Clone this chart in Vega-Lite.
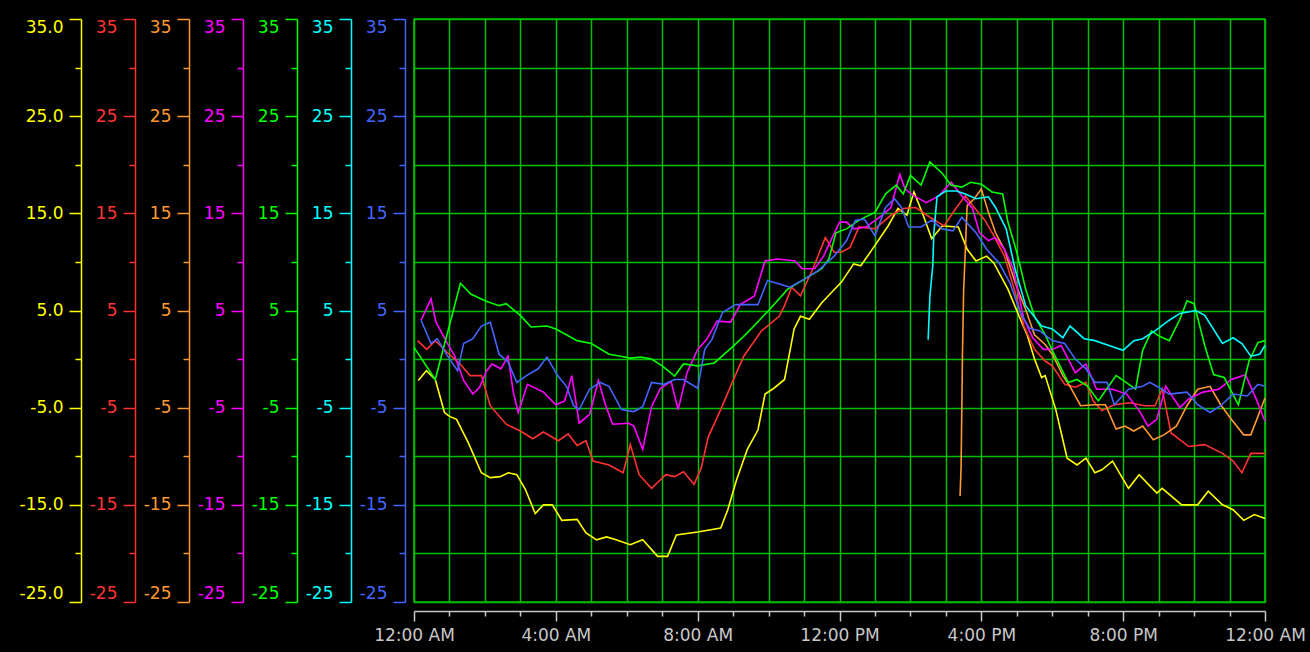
{
  "$schema": "https://vega.github.io/schema/vega-lite/v6.json",
  "width": 851,
  "height": 583,
  "autosize": {"type": "none"},
  "padding": {"left": 414, "top": 19, "right": 45, "bottom": 50},
  "background": "#000000",
  "config": {
    "view": {"stroke": "#00c000", "strokeWidth": 1.5},
    "axis": {"labelFont": "DejaVu Sans", "labelFontSize": 17, "title": null}
  },
  "datasets": {
    "yel": [
      {"h":0.12,"v":-2.2},{"h":0.35,"v":-1.2},{"h":0.6,"v":-2.1},{"h":0.86,"v":-5.5},{"h":1.0,"v":-5.9},{"h":1.2,"v":-6.2},{"h":1.53,"v":-8.6},{"h":1.9,"v":-11.7},{"h":2.15,"v":-12.2},{"h":2.43,"v":-12.1},{"h":2.66,"v":-11.7},{"h":2.9,"v":-11.9},{"h":3.14,"v":-13.4},{"h":3.42,"v":-15.9},{"h":3.65,"v":-15.0},{"h":3.9,"v":-15.0},{"h":4.17,"v":-16.6},{"h":4.6,"v":-16.5},{"h":4.85,"v":-17.9},{"h":5.15,"v":-18.6},{"h":5.43,"v":-18.3},{"h":5.7,"v":-18.6},{"h":6.1,"v":-19.1},{"h":6.45,"v":-18.6},{"h":6.87,"v":-20.3},{"h":7.15,"v":-20.3},{"h":7.4,"v":-18.1},{"h":8.0,"v":-17.8},{"h":8.65,"v":-17.4},{"h":8.85,"v":-15.5},{"h":9.1,"v":-12.4},{"h":9.4,"v":-9.3},{"h":9.7,"v":-7.3},{"h":9.9,"v":-3.6},{"h":10.15,"v":-3.0},{"h":10.45,"v":-2.1},{"h":10.72,"v":3.1},{"h":10.9,"v":4.4},{"h":11.15,"v":4.1},{"h":11.5,"v":5.8},{"h":11.76,"v":6.8},{"h":12.05,"v":7.9},{"h":12.4,"v":9.8},{"h":12.6,"v":9.6},{"h":13.0,"v":11.7},{"h":13.37,"v":13.7},{"h":13.65,"v":15.5},{"h":13.9,"v":14.8},{"h":14.1,"v":17.2},{"h":14.35,"v":14.9},{"h":14.6,"v":12.4},{"h":14.9,"v":13.7},{"h":15.35,"v":13.6},{"h":15.6,"v":11.3},{"h":15.85,"v":10.1},{"h":16.15,"v":10.6},{"h":16.35,"v":9.9},{"h":16.75,"v":7.2},{"h":17.1,"v":4.1},{"h":17.3,"v":2.4},{"h":17.5,"v":0.0},{"h":17.7,"v":-1.9},{"h":17.8,"v":-1.7},{"h":18.1,"v":-5.2},{"h":18.42,"v":-10.2},{"h":18.7,"v":-10.9},{"h":18.95,"v":-10.2},{"h":19.2,"v":-11.7},{"h":19.4,"v":-11.4},{"h":19.7,"v":-10.5},{"h":20.15,"v":-13.3},{"h":20.45,"v":-11.9},{"h":20.95,"v":-13.8},{"h":21.1,"v":-13.3},{"h":21.65,"v":-15.0},{"h":22.1,"v":-15.0},{"h":22.4,"v":-13.6},{"h":22.8,"v":-15.0},{"h":23.1,"v":-15.5},{"h":23.4,"v":-16.6},{"h":23.7,"v":-16.0},{"h":24,"v":-16.4}
    ],
    "red": [
      {"h":0.1,"v":1.9},{"h":0.36,"v":1.0},{"h":0.6,"v":1.9},{"h":0.93,"v":0.7},{"h":1.3,"v":-0.5},{"h":1.58,"v":-1.7},{"h":1.9,"v":-1.7},{"h":2.15,"v":-4.8},{"h":2.6,"v":-6.7},{"h":3.0,"v":-7.4},{"h":3.35,"v":-8.2},{"h":3.65,"v":-7.5},{"h":4.07,"v":-8.4},{"h":4.35,"v":-7.7},{"h":4.6,"v":-8.9},{"h":4.85,"v":-8.4},{"h":5.05,"v":-10.5},{"h":5.5,"v":-10.9},{"h":5.9,"v":-11.7},{"h":6.1,"v":-8.8},{"h":6.35,"v":-11.9},{"h":6.7,"v":-13.3},{"h":7.1,"v":-11.9},{"h":7.35,"v":-12.1},{"h":7.6,"v":-11.6},{"h":7.9,"v":-12.9},{"h":8.1,"v":-11.2},{"h":8.3,"v":-8.0},{"h":8.65,"v":-5.2},{"h":8.95,"v":-2.6},{"h":9.3,"v":0.3},{"h":9.8,"v":2.9},{"h":10.3,"v":4.4},{"h":10.45,"v":5.5},{"h":10.65,"v":7.4},{"h":10.9,"v":6.5},{"h":11.25,"v":9.3},{"h":11.6,"v":12.5},{"h":11.85,"v":11.0},{"h":12.05,"v":11.0},{"h":12.3,"v":11.5},{"h":12.55,"v":13.6},{"h":13.0,"v":13.4},{"h":13.45,"v":14.8},{"h":13.8,"v":15.5},{"h":14.15,"v":15.6},{"h":14.55,"v":14.6},{"h":14.95,"v":13.7},{"h":15.3,"v":15.6},{"h":15.55,"v":16.8},{"h":15.8,"v":15.6},{"h":16.1,"v":14.3},{"h":16.35,"v":12.7},{"h":16.65,"v":10.6},{"h":16.95,"v":6.9},{"h":17.2,"v":3.4},{"h":17.5,"v":1.0},{"h":17.8,"v":-0.2},{"h":18.0,"v":-0.7},{"h":18.35,"v":-2.6},{"h":18.65,"v":-2.9},{"h":18.95,"v":-2.4},{"h":19.15,"v":-4.3},{"h":19.4,"v":-5.3},{"h":19.75,"v":-4.7},{"h":20.2,"v":-4.5},{"h":20.6,"v":-4.8},{"h":20.9,"v":-4.8},{"h":21.1,"v":-3.1},{"h":21.35,"v":-7.6},{"h":21.85,"v":-9.0},{"h":22.3,"v":-8.8},{"h":22.8,"v":-9.7},{"h":23.1,"v":-10.5},{"h":23.35,"v":-11.7},{"h":23.6,"v":-9.7},{"h":24,"v":-9.7}
    ],
    "ora": [
      {"h":15.4,"v":-14.1},{"h":15.43,"v":-11.0},{"h":15.45,"v":-4.9},{"h":15.47,"v":1.0},{"h":15.5,"v":6.9},{"h":15.6,"v":15.8},{"h":15.8,"v":16.5},{"h":16.0,"v":17.5},{"h":16.2,"v":15.1},{"h":16.4,"v":13.0},{"h":16.65,"v":11.3},{"h":16.95,"v":7.9},{"h":17.25,"v":5.1},{"h":17.5,"v":2.5},{"h":17.8,"v":1.5},{"h":18.0,"v":0.5},{"h":18.3,"v":-1.7},{"h":18.5,"v":-2.8},{"h":18.8,"v":-4.8},{"h":19.2,"v":-4.7},{"h":19.5,"v":-4.7},{"h":19.8,"v":-7.2},{"h":20.05,"v":-6.9},{"h":20.3,"v":-7.4},{"h":20.55,"v":-6.9},{"h":20.85,"v":-8.3},{"h":21.15,"v":-7.8},{"h":21.5,"v":-6.9},{"h":21.8,"v":-4.8},{"h":22.1,"v":-3.1},{"h":22.45,"v":-2.8},{"h":22.75,"v":-4.7},{"h":23.05,"v":-6.2},{"h":23.4,"v":-7.8},{"h":23.6,"v":-7.8},{"h":24,"v":-4.0}
    ],
    "mag": [
      {"h":0.2,"v":4.0},{"h":0.48,"v":6.2},{"h":0.62,"v":3.8},{"h":0.9,"v":1.9},{"h":1.15,"v":0.3},{"h":1.4,"v":-2.2},{"h":1.66,"v":-3.6},{"h":1.85,"v":-2.9},{"h":2.05,"v":-1.2},{"h":2.2,"v":-0.5},{"h":2.45,"v":-1.0},{"h":2.65,"v":0.3},{"h":2.8,"v":-3.4},{"h":2.94,"v":-5.5},{"h":3.2,"v":-2.6},{"h":3.65,"v":-3.4},{"h":4.0,"v":-4.7},{"h":4.25,"v":-4.3},{"h":4.45,"v":-1.7},{"h":4.66,"v":-6.6},{"h":4.95,"v":-5.7},{"h":5.2,"v":-2.2},{"h":5.4,"v":-4.7},{"h":5.6,"v":-6.7},{"h":6.05,"v":-6.6},{"h":6.2,"v":-6.9},{"h":6.45,"v":-9.3},{"h":6.7,"v":-4.9},{"h":6.95,"v":-3.0},{"h":7.25,"v":-2.3},{"h":7.45,"v":-5.2},{"h":7.7,"v":-1.4},{"h":8.0,"v":1.0},{"h":8.25,"v":2.0},{"h":8.55,"v":3.9},{"h":8.93,"v":3.8},{"h":9.2,"v":5.6},{"h":9.6,"v":6.5},{"h":9.9,"v":10.1},{"h":10.25,"v":10.3},{"h":10.75,"v":10.1},{"h":10.95,"v":9.3},{"h":11.3,"v":9.3},{"h":11.55,"v":10.6},{"h":12.0,"v":14.1},{"h":12.2,"v":14.1},{"h":12.4,"v":13.4},{"h":12.75,"v":13.6},{"h":13.2,"v":14.8},{"h":13.45,"v":15.6},{"h":13.7,"v":19.0},{"h":13.85,"v":17.5},{"h":14.1,"v":16.8},{"h":14.45,"v":16.1},{"h":14.8,"v":16.8},{"h":15.15,"v":18.2},{"h":15.45,"v":16.8},{"h":15.75,"v":15.5},{"h":15.95,"v":13.0},{"h":16.2,"v":12.2},{"h":16.4,"v":12.5},{"h":16.65,"v":11.3},{"h":16.9,"v":9.3},{"h":17.2,"v":4.1},{"h":17.45,"v":2.2},{"h":17.75,"v":1.0},{"h":18.0,"v":1.0},{"h":18.25,"v":1.4},{"h":18.65,"v":-1.4},{"h":18.95,"v":-0.5},{"h":19.25,"v":-3.1},{"h":19.7,"v":-3.1},{"h":20.1,"v":-3.6},{"h":20.45,"v":-5.3},{"h":20.7,"v":-6.9},{"h":20.95,"v":-6.2},{"h":21.2,"v":-2.8},{"h":21.6,"v":-5.0},{"h":21.85,"v":-4.1},{"h":22.25,"v":-3.4},{"h":22.7,"v":-3.1},{"h":23.05,"v":-2.1},{"h":23.45,"v":-1.6},{"h":23.75,"v":-4.1},{"h":24,"v":-6.4}
    ],
    "grn": [
      {"h":0.0,"v":1.2},{"h":0.6,"v":-2.1},{"h":1.31,"v":7.8},{"h":1.6,"v":6.7},{"h":2.0,"v":6.0},{"h":2.4,"v":5.5},{"h":2.6,"v":5.7},{"h":3.0,"v":4.5},{"h":3.3,"v":3.3},{"h":3.75,"v":3.4},{"h":4.0,"v":3.1},{"h":4.6,"v":1.9},{"h":5.0,"v":1.6},{"h":5.5,"v":0.5},{"h":5.83,"v":0.3},{"h":6.1,"v":0.1},{"h":6.4,"v":0.2},{"h":6.7,"v":0.0},{"h":7.0,"v":-0.7},{"h":7.35,"v":-1.75},{"h":7.6,"v":-0.5},{"h":8.0,"v":-0.7},{"h":8.47,"v":-0.4},{"h":9.0,"v":1.3},{"h":9.4,"v":2.7},{"h":10.0,"v":5.0},{"h":10.54,"v":7.2},{"h":11.0,"v":8.2},{"h":11.5,"v":9.3},{"h":11.7,"v":10.3},{"h":11.9,"v":13.0},{"h":12.2,"v":13.4},{"h":12.55,"v":14.3},{"h":13.0,"v":15.1},{"h":13.3,"v":17.0},{"h":13.6,"v":17.9},{"h":13.8,"v":17.0},{"h":14.0,"v":18.9},{"h":14.3,"v":17.9},{"h":14.55,"v":20.3},{"h":14.9,"v":19.1},{"h":15.15,"v":17.9},{"h":15.45,"v":17.7},{"h":15.7,"v":18.2},{"h":16.0,"v":18.0},{"h":16.3,"v":17.2},{"h":16.6,"v":17.0},{"h":16.75,"v":14.1},{"h":17.0,"v":11.0},{"h":17.25,"v":7.2},{"h":17.5,"v":4.4},{"h":17.8,"v":2.5},{"h":18.0,"v":0.9},{"h":18.45,"v":-2.4},{"h":18.7,"v":-2.1},{"h":19.0,"v":-2.8},{"h":19.3,"v":-4.3},{"h":19.8,"v":-1.7},{"h":20.0,"v":-2.2},{"h":20.35,"v":-3.1},{"h":20.55,"v":0.9},{"h":20.8,"v":2.9},{"h":21.0,"v":2.4},{"h":21.3,"v":1.9},{"h":21.6,"v":4.1},{"h":21.8,"v":6.0},{"h":22.0,"v":5.7},{"h":22.3,"v":1.4},{"h":22.55,"v":-1.6},{"h":22.85,"v":-1.9},{"h":23.25,"v":-4.7},{"h":23.55,"v":-0.2},{"h":23.8,"v":1.7},{"h":24,"v":1.9}
    ],
    "cya": [
      {"h":14.5,"v":2.0},{"h":14.55,"v":6.5},{"h":14.63,"v":9.6},{"h":14.66,"v":12.9},{"h":14.75,"v":16.7},{"h":15.0,"v":17.3},{"h":15.3,"v":17.3},{"h":15.55,"v":17.0},{"h":15.85,"v":16.5},{"h":16.2,"v":16.7},{"h":16.4,"v":15.6},{"h":16.7,"v":13.4},{"h":16.95,"v":9.3},{"h":17.25,"v":5.5},{"h":17.7,"v":3.4},{"h":18.0,"v":3.1},{"h":18.3,"v":2.2},{"h":18.5,"v":3.4},{"h":18.9,"v":2.1},{"h":19.2,"v":1.9},{"h":19.6,"v":1.4},{"h":20.0,"v":0.9},{"h":20.3,"v":1.9},{"h":20.55,"v":2.1},{"h":20.9,"v":2.9},{"h":21.3,"v":4.0},{"h":21.6,"v":4.7},{"h":22.05,"v":5.0},{"h":22.3,"v":4.5},{"h":22.8,"v":1.6},{"h":23.1,"v":2.2},{"h":23.35,"v":1.6},{"h":23.6,"v":0.3},{"h":23.85,"v":0.5},{"h":24,"v":1.4}
    ],
    "blu": [
      {"h":0.2,"v":4.0},{"h":0.48,"v":1.6},{"h":0.65,"v":2.1},{"h":0.95,"v":0.3},{"h":1.23,"v":-1.2},{"h":1.4,"v":1.6},{"h":1.66,"v":2.1},{"h":1.9,"v":3.4},{"h":2.15,"v":3.8},{"h":2.4,"v":0.5},{"h":2.65,"v":-0.3},{"h":2.9,"v":-2.4},{"h":3.17,"v":-1.7},{"h":3.5,"v":-1.0},{"h":3.75,"v":0.2},{"h":4.05,"v":-1.7},{"h":4.3,"v":-2.8},{"h":4.5,"v":-4.8},{"h":4.66,"v":-5.2},{"h":4.95,"v":-3.1},{"h":5.25,"v":-2.4},{"h":5.5,"v":-2.8},{"h":5.85,"v":-5.2},{"h":6.2,"v":-5.4},{"h":6.45,"v":-4.9},{"h":6.7,"v":-2.4},{"h":7.05,"v":-2.6},{"h":7.35,"v":-2.1},{"h":7.6,"v":-2.1},{"h":8.0,"v":-3.0},{"h":8.2,"v":1.0},{"h":8.4,"v":2.0},{"h":8.7,"v":4.8},{"h":9.07,"v":5.6},{"h":9.7,"v":5.6},{"h":9.97,"v":8.1},{"h":10.33,"v":7.7},{"h":10.6,"v":7.4},{"h":10.95,"v":8.1},{"h":11.4,"v":9.1},{"h":11.85,"v":10.6},{"h":12.05,"v":11.5},{"h":12.2,"v":12.2},{"h":12.45,"v":14.3},{"h":12.7,"v":14.4},{"h":13.0,"v":12.7},{"h":13.3,"v":15.6},{"h":13.55,"v":16.5},{"h":13.75,"v":15.6},{"h":13.95,"v":13.6},{"h":14.3,"v":13.6},{"h":14.6,"v":14.3},{"h":14.9,"v":13.4},{"h":15.2,"v":13.2},{"h":15.45,"v":14.6},{"h":15.85,"v":13.0},{"h":16.15,"v":11.3},{"h":16.5,"v":9.9},{"h":16.8,"v":7.9},{"h":17.1,"v":4.8},{"h":17.35,"v":3.2},{"h":17.65,"v":2.9},{"h":18.0,"v":1.9},{"h":18.35,"v":1.6},{"h":18.65,"v":0.0},{"h":18.95,"v":-1.0},{"h":19.2,"v":-2.4},{"h":19.55,"v":-2.4},{"h":19.75,"v":-4.7},{"h":20.15,"v":-3.1},{"h":20.55,"v":-2.8},{"h":20.75,"v":-2.4},{"h":21.0,"v":-2.9},{"h":21.3,"v":-3.6},{"h":21.8,"v":-3.4},{"h":22.1,"v":-4.7},{"h":22.45,"v":-5.5},{"h":22.75,"v":-4.8},{"h":23.1,"v":-3.6},{"h":23.5,"v":-3.8},{"h":23.8,"v":-2.6},{"h":24,"v":-2.8}
    ]
  },
  "encoding": {
    "x": {
      "field": "h", "type": "quantitative",
      "scale": {"domain": [0, 24], "nice": false, "zero": false},
      "axis": {
        "values": [0,1,2,3,4,5,6,7,8,9,10,11,12,13,14,15,16,17,18,19,20,21,22,23,24],
        "labelExpr": "datum.value % 4 == 0 ? ((datum.value % 12 == 0 ? 12 : datum.value % 12) + ':00 ' + (datum.value % 24 < 12 ? 'AM' : 'PM')) : ''",
        "offset": 9,
        "domainColor": "#c8c8c8", "domainWidth": 1.5,
        "tickColor": "#c8c8c8", "tickWidth": 1.5,
        "tickSize": {"condition": {"test": "datum.value % 4 == 0", "value": 10}, "value": 5},
        "labelColor": "#c8c8c8", "labelPadding": 6, "labelFlush": false, "labelOverlap": false,
        "grid": true, "gridColor": "#00c000", "gridWidth": 1.5
      }
    }
  },
  "layer": [
    {
      "data": {"name": "yel"},
      "mark": {"type": "line", "strokeOpacity": 0},
      "encoding": {
        "y": {"field": "v", "type": "quantitative", "scale": {"domain": [-25, 35], "nice": false, "zero": false},
          "axis": {"orient": "left", "offset": 0, "values": [-25,-20,-15,-10,-5,0,5,10,15,20,25,30,35],
            "grid": true, "gridColor": "#00c000", "gridWidth": 1.5, "domain": false, "ticks": false, "labels": false}}
      }
    },
    {
      "data": {"name": "yel"},
      "mark": {"type": "line", "color": "#ffff00", "strokeWidth": 1.6},
      "encoding": {
        "y": {"field": "v", "type": "quantitative", "scale": {"domain": [-25, 35], "nice": false, "zero": false},
          "axis": {"orient": "left", "offset": 333, "values": [-25,-20,-15,-10,-5,0,5,10,15,20,25,30,35],
            "labelExpr": "abs(datum.value % 10) == 5 ? datum.value + '.0' : ''",
            "grid": false, "domainColor": "#ffff00", "tickColor": "#ffff00", "labelColor": "#ffff00", "domainWidth": 1.5, "tickWidth": 1.5,
            "tickSize": {"condition": {"test": "abs(datum.value % 10) == 5", "value": 12}, "value": 6},
            "labelPadding": 6, "labelFlush": true, "labelOverlap": false}}
      }
    },
    {
      "data": {"name": "red"},
      "mark": {"type": "line", "color": "#ff3333", "strokeWidth": 1.6},
      "encoding": {
        "y": {"field": "v", "type": "quantitative", "scale": {"domain": [-25, 35], "nice": false, "zero": false},
          "axis": {"orient": "left", "offset": 279, "values": [-25,-20,-15,-10,-5,0,5,10,15,20,25,30,35],
            "labelExpr": "abs(datum.value % 10) == 5 ? datum.value + '' : ''",
            "grid": false, "domainColor": "#ff3333", "tickColor": "#ff3333", "labelColor": "#ff3333", "domainWidth": 1.5, "tickWidth": 1.5,
            "tickSize": {"condition": {"test": "abs(datum.value % 10) == 5", "value": 12}, "value": 6},
            "labelPadding": 6, "labelFlush": true, "labelOverlap": false}}
      }
    },
    {
      "data": {"name": "ora"},
      "mark": {"type": "line", "color": "#ff9933", "strokeWidth": 1.6},
      "encoding": {
        "y": {"field": "v", "type": "quantitative", "scale": {"domain": [-25, 35], "nice": false, "zero": false},
          "axis": {"orient": "left", "offset": 225, "values": [-25,-20,-15,-10,-5,0,5,10,15,20,25,30,35],
            "labelExpr": "abs(datum.value % 10) == 5 ? datum.value + '' : ''",
            "grid": false, "domainColor": "#ff9933", "tickColor": "#ff9933", "labelColor": "#ff9933", "domainWidth": 1.5, "tickWidth": 1.5,
            "tickSize": {"condition": {"test": "abs(datum.value % 10) == 5", "value": 12}, "value": 6},
            "labelPadding": 6, "labelFlush": true, "labelOverlap": false}}
      }
    },
    {
      "data": {"name": "mag"},
      "mark": {"type": "line", "color": "#ff00ff", "strokeWidth": 1.6},
      "encoding": {
        "y": {"field": "v", "type": "quantitative", "scale": {"domain": [-25, 35], "nice": false, "zero": false},
          "axis": {"orient": "left", "offset": 171, "values": [-25,-20,-15,-10,-5,0,5,10,15,20,25,30,35],
            "labelExpr": "abs(datum.value % 10) == 5 ? datum.value + '' : ''",
            "grid": false, "domainColor": "#ff00ff", "tickColor": "#ff00ff", "labelColor": "#ff00ff", "domainWidth": 1.5, "tickWidth": 1.5,
            "tickSize": {"condition": {"test": "abs(datum.value % 10) == 5", "value": 12}, "value": 6},
            "labelPadding": 6, "labelFlush": true, "labelOverlap": false}}
      }
    },
    {
      "data": {"name": "grn"},
      "mark": {"type": "line", "color": "#00ff00", "strokeWidth": 1.6},
      "encoding": {
        "y": {"field": "v", "type": "quantitative", "scale": {"domain": [-25, 35], "nice": false, "zero": false},
          "axis": {"orient": "left", "offset": 117, "values": [-25,-20,-15,-10,-5,0,5,10,15,20,25,30,35],
            "labelExpr": "abs(datum.value % 10) == 5 ? datum.value + '' : ''",
            "grid": false, "domainColor": "#00ff00", "tickColor": "#00ff00", "labelColor": "#00ff00", "domainWidth": 1.5, "tickWidth": 1.5,
            "tickSize": {"condition": {"test": "abs(datum.value % 10) == 5", "value": 12}, "value": 6},
            "labelPadding": 6, "labelFlush": true, "labelOverlap": false}}
      }
    },
    {
      "data": {"name": "cya"},
      "mark": {"type": "line", "color": "#00ffff", "strokeWidth": 1.6},
      "encoding": {
        "y": {"field": "v", "type": "quantitative", "scale": {"domain": [-25, 35], "nice": false, "zero": false},
          "axis": {"orient": "left", "offset": 63, "values": [-25,-20,-15,-10,-5,0,5,10,15,20,25,30,35],
            "labelExpr": "abs(datum.value % 10) == 5 ? datum.value + '' : ''",
            "grid": false, "domainColor": "#00ffff", "tickColor": "#00ffff", "labelColor": "#00ffff", "domainWidth": 1.5, "tickWidth": 1.5,
            "tickSize": {"condition": {"test": "abs(datum.value % 10) == 5", "value": 12}, "value": 6},
            "labelPadding": 6, "labelFlush": true, "labelOverlap": false}}
      }
    },
    {
      "data": {"name": "blu"},
      "mark": {"type": "line", "color": "#4466ff", "strokeWidth": 1.6},
      "encoding": {
        "y": {"field": "v", "type": "quantitative", "scale": {"domain": [-25, 35], "nice": false, "zero": false},
          "axis": {"orient": "left", "offset": 9, "values": [-25,-20,-15,-10,-5,0,5,10,15,20,25,30,35],
            "labelExpr": "abs(datum.value % 10) == 5 ? datum.value + '' : ''",
            "grid": false, "domainColor": "#4466ff", "tickColor": "#4466ff", "labelColor": "#4466ff", "domainWidth": 1.5, "tickWidth": 1.5,
            "tickSize": {"condition": {"test": "abs(datum.value % 10) == 5", "value": 12}, "value": 6},
            "labelPadding": 6, "labelFlush": true, "labelOverlap": false}}
      }
    }
  ],
  "resolve": {"scale": {"y": "independent"}}
}
